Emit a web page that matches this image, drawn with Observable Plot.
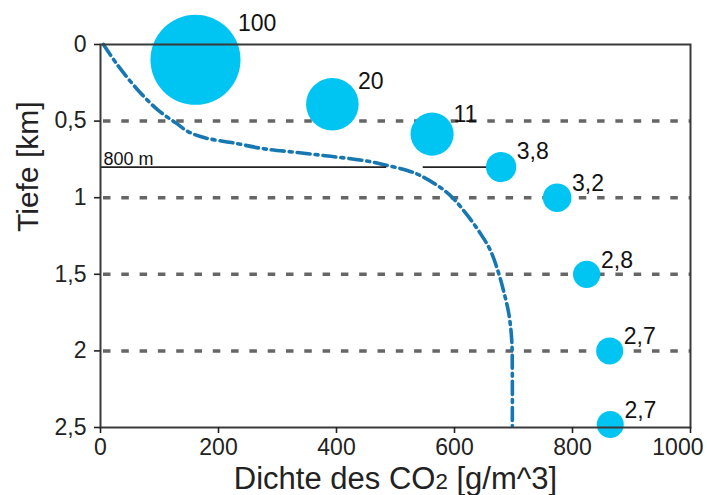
<!DOCTYPE html>
<html>
<head>
<meta charset="utf-8">
<script src="https://cdn.jsdelivr.net/npm/d3@7"></script>
<script src="https://cdn.jsdelivr.net/npm/@observablehq/plot@0.6"></script>
<style>
  body { margin: 0; background: #fff; }
  #chart svg { display: block; }
</style>
</head>
<body>
<div id="chart"></div>
<script>
// Axis ticks
const densityTicks = [0, 200, 400, 600, 800, 1000];
const depthTicks = [0, 0.5, 1, 1.5, 2, 2.5];
const gridDepths = [0.5, 1, 1.5, 2];

// CO2 density profile with depth (g/m^3 vs km)
const curveDensity = [5, 30, 64, 98, 127, 149, 178, 222, 276, 334, 390, 446, 486, 520, 542, 576, 598, 622, 644, 661, 675, 683, 692, 697, 698, 698];
const curveDepth = [0, 0.14, 0.30, 0.43, 0.51, 0.57, 0.61, 0.64, 0.68, 0.705, 0.73, 0.757, 0.79, 0.822, 0.855, 0.933, 1.005, 1.116, 1.234, 1.345, 1.495, 1.606, 1.756, 1.93, 2.15, 2.49];

// Relative volume of the CO2 at each depth
const bubbleDensity = [161, 393, 562, 679, 774, 824, 863, 864];
const bubbleDepth = [0.10, 0.39, 0.585, 0.80, 1.0, 1.5, 2.0, 2.48];
const bubbleVolume = [100, 20, 11, 3.8, 3.2, 2.8, 2.7, 2.7];

// 800 m reference line, interrupted where the profile crosses it
const markerDepth = 0.8;
const markerLabel = "800 m";
const markerStart = [0, 547];
const markerEnd = [485, 679];

const comma = v => String(v).replace(".", ",");

const curve = curveDensity.map((d, i) => ({density: d, depth: curveDepth[i]}));
const bubbles = bubbleDensity.map((d, i) => ({density: d, depth: bubbleDepth[i], volume: bubbleVolume[i]}));
const markers = markerStart.map((s, i) => ({x1: s, x2: markerEnd[i], depth: markerDepth}));

// Bubble radius grows with the cube root of the volume
const rOptions = {type: "pow", exponent: 1 / 3, domain: [0, 100], range: [0, 45]};
const rScale = Plot.scale({r: rOptions});

const font = "'Liberation Sans', Arial, Helvetica, sans-serif";

const labelMarks = bubbles.map(b => {
  const r = rScale.apply(b.volume);
  return Plot.text([b], {
    x: "density", y: "depth", text: d => comma(d.volume),
    textAnchor: "start", lineAnchor: "middle",
    dx: 0.9 * r + 2, dy: -0.7 * r - 4.5,
    fontSize: 23, fill: "#111"
  });
});

const lastDensityTick = densityTicks[densityTicks.length - 1];

const chart = Plot.plot({
  width: 707,
  height: 495,
  marginLeft: 100,
  marginRight: 17,
  marginTop: 44,
  marginBottom: 68,
  style: {fontFamily: font, color: "#222", background: "#fff", overflow: "visible"},
  x: {domain: [0, 1000]},
  y: {domain: [0, 2.5], reverse: true},
  r: rOptions,
  marks: [
    Plot.ruleY(gridDepths, {stroke: "#666", strokeWidth: 3.5, strokeDasharray: "7.5,10.8", strokeDashoffset: -3}),
    Plot.line(curve, {x: "density", y: "depth", curve: "catmull-rom", stroke: "#1777b3", strokeWidth: 3.6, strokeDasharray: "13,5,3,5"}),
    Plot.ruleY(markers, {y: "depth", x1: "x1", x2: "x2", stroke: "#222", strokeWidth: 1.8}),
    Plot.text([markerLabel], {x: 0, y: markerDepth, text: d => d, textAnchor: "start", lineAnchor: "bottom", dx: 3, dy: -2, fontSize: 18, fill: "#111"}),
    Plot.dot(bubbles, {x: "density", y: "depth", r: "volume", fill: "#00c5f3", stroke: null}),
    ...labelMarks,
    Plot.frame({stroke: "#3a3a3a", strokeWidth: 2}),
    Plot.axisX({ticks: densityTicks, tickSize: 6, tickPadding: 5, fontSize: 23, label: null, strokeWidth: 1.6,
      tickFormat: d => d === lastDensityTick ? "" : String(d)}),
    // the last label is pulled inward so it stays inside the page
    Plot.axisX({ticks: [lastDensityTick], tickSize: 0, tickPadding: 11, fontSize: 23, label: null,
      tickFormat: d => String(d), textAnchor: "end", dx: 13}),
    Plot.axisY({ticks: depthTicks, tickSize: 6, tickPadding: 8, fontSize: 23, label: null, tickFormat: comma, strokeWidth: 1.6}),
    Plot.text(["Dichte des CO2 [g/m^3]"], {frameAnchor: "bottom", text: d => d, lineAnchor: "bottom", dy: 61, fontSize: 31, fill: "#222"}),
    Plot.text(["Tiefe [km]"], {frameAnchor: "left", text: d => d, rotate: -90, lineAnchor: "bottom", dx: -63, dy: -4, fontSize: 30, fill: "#222"})
  ]
});

// Smaller "2" in the chemical formula of the x-axis title
d3.select(chart).selectAll("text").each(function () {
  if (this.textContent === "Dichte des CO2 [g/m^3]") {
    const t = d3.select(this);
    t.text(null);
    t.append("tspan").text("Dichte des CO");
    t.append("tspan").attr("font-size", "0.72em").text("2");
    t.append("tspan").text(" [g/m^3]");
  }
});

document.getElementById("chart").append(chart);
</script>
</body>
</html>
